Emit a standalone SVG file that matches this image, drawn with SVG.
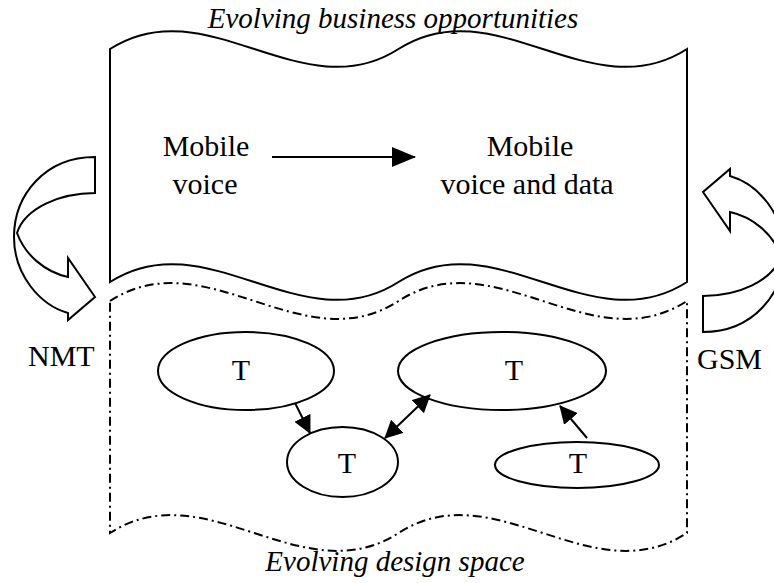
<svg xmlns="http://www.w3.org/2000/svg" width="774" height="583" viewBox="0 0 774 583">
<style>
.shape{fill:none;stroke:#000;stroke-width:2;stroke-linejoin:miter}
.dash{fill:none;stroke:#000;stroke-width:2;stroke-dasharray:9 4 2 4}
.cur{fill:#fff;stroke:#000;stroke-width:2;stroke-linejoin:miter}
.ell{fill:#fff;stroke:#000;stroke-width:2}
.txt{font-family:"Liberation Serif","Times New Roman",serif;font-size:30px;fill:#000}
.it{font-style:italic;font-size:29px}
.con{stroke:#000;stroke-width:2;fill:none}
</style>
<defs>
<marker id="ah" viewBox="0 0 18 18" refX="17" refY="9" markerWidth="18" markerHeight="18" markerUnits="userSpaceOnUse" orient="auto-start-reverse">
<path d="M0,0 L18,9 L0,18 Z" fill="#000"/>
</marker>
<marker id="ahBig" viewBox="0 0 24 20" refX="23" refY="10" markerWidth="24" markerHeight="20" markerUnits="userSpaceOnUse" orient="auto">
<path d="M0,0 L24,10 L0,20 Z" fill="#000"/>
</marker>
<path id="curved" d="M95,157 C45,157 14,195 14,237 C14,275 40,305 68,313 L68,320 L95,297 L68,258 L68,277 C45,272 25,255 17,233 C25,208 60,193 95,193 Z"/>
</defs>
<rect width="774" height="583" fill="#fff"/>
<g id="business-space">
<path class="shape" d="M110,49 C206.2,-13 302.3,111 398.5,49 C494.7,-13 590.8,111 687,49 L687,282 C590.8,344 494.7,220 398.5,282 C302.3,344 206.2,220 110,282 Z"/>
</g>
<g id="design-space">
<path class="dash" d="M110,301 C206.2,239 302.3,363 398.5,301 C494.7,239 590.8,363 687,301 L687,533 C590.8,595 494.7,471 398.5,533 C302.3,595 206.2,471 110,533 Z"/>
</g>
<g id="left-curved-arrow">
<use href="#curved" class="cur"/>
</g>
<g id="right-curved-arrow">
<use href="#curved" class="cur" transform="rotate(180 399 244.5)"/>
</g>
<g id="title-top"><text class="txt it" x="393" y="28" text-anchor="middle">Evolving business opportunities</text></g>
<g id="title-bottom"><text class="txt it" x="395" y="571" text-anchor="middle">Evolving design space</text></g>
<g id="mobile-voice">
<text class="txt" x="206" y="156" text-anchor="middle">Mobile</text>
<text class="txt" x="205" y="194" text-anchor="middle">voice</text>
</g>
<g id="mobile-voice-data">
<text class="txt" x="530" y="156" text-anchor="middle">Mobile</text>
<text class="txt" x="527" y="194" text-anchor="middle">voice and data</text>
</g>
<g id="nmt"><text class="txt" x="28" y="366">NMT</text></g>
<g id="gsm"><text class="txt" x="697" y="369">GSM</text></g>
<g id="T1"><ellipse class="ell" cx="246" cy="371" rx="88" ry="39"/><text class="txt" x="241" y="380" text-anchor="middle">T</text></g>
<g id="T2"><ellipse class="ell" cx="342.5" cy="462" rx="55.5" ry="35"/><text class="txt" x="347" y="473" text-anchor="middle">T</text></g>
<g id="T3"><ellipse class="ell" cx="502" cy="371" rx="104" ry="39"/><text class="txt" x="514" y="380" text-anchor="middle">T</text></g>
<g id="T4"><ellipse class="ell" cx="577" cy="465" rx="82" ry="23"/><text class="txt" x="578" y="473" text-anchor="middle">T</text></g>
<g id="connectors">
<line class="con" x1="272" y1="157" x2="415" y2="157" marker-end="url(#ahBig)"/>
<line class="con" x1="295" y1="403" x2="310" y2="433" marker-end="url(#ah)"/>
<line class="con" x1="385" y1="438" x2="430" y2="395" marker-start="url(#ah)" marker-end="url(#ah)"/>
<line class="con" x1="587" y1="438" x2="560" y2="406" marker-end="url(#ah)"/>
</g>
</svg>
